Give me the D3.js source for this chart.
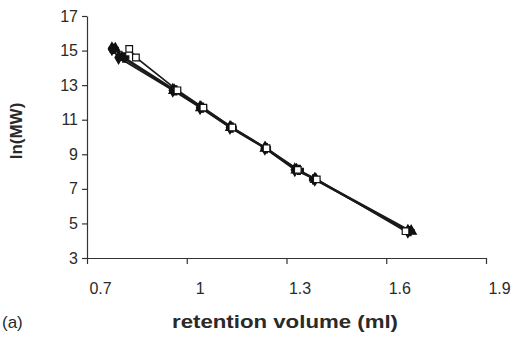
<!DOCTYPE html>
<html><head><meta charset="utf-8">
<script src="https://cdn.jsdelivr.net/npm/d3@7"></script>
<style>body{margin:0;background:#fff}svg{display:block}text{font-family:"Liberation Sans",Arial,sans-serif;fill:#2a2a2a}</style>
</head><body><svg id="c" width="512" height="340"></svg>
<script>
const lnMW = [15.1, 14.6, 12.7, 11.7, 10.55, 9.35, 8.1, 7.55, 4.55];
const volDiamond = [0.775, 0.795, 0.958, 1.040, 1.130, 1.235, 1.325, 1.385, 1.665];
const volTriangle = [0.785, 0.805, 0.962, 1.043, 1.133, 1.237, 1.330, 1.388, 1.675];
const volCross = [0.780, 0.812, 0.966, 1.046, 1.135, 1.238, 1.337, 1.383, 1.670];
const volSquare = [0.827, 0.847, 0.972, 1.050, 1.137, 1.240, 1.334, 1.391, 1.658];
const xTicks = [0.7, 1.0, 1.3, 1.6, 1.9];
const xTickLabels = ["0.7", "1", "1.3", "1.6", "1.9"];
const yTicks = [3, 5, 7, 9, 11, 13, 15, 17];

const svg = d3.select("#c");
const x = d3.scaleLinear().domain([0.7, 1.9]).range([87, 486]);
const y = d3.scaleLinear().domain([3, 17]).range([258, 16]);

const xAxis = svg.append("g").attr("transform", "translate(0,258)")
  .call(d3.axisBottom(x).tickValues(xTicks).tickFormat((d, i) => xTickLabels[i]).tickSizeInner(6).tickSizeOuter(0).tickPadding(19));
const yAxis = svg.append("g").attr("transform", "translate(87,0)")
  .call(d3.axisLeft(y).tickValues(yTicks).tickSizeInner(5).tickSizeOuter(0).tickPadding(4));
[xAxis, yAxis].forEach(a => {
  a.select(".domain").attr("stroke", "#333").attr("stroke-width", 1.2);
  a.selectAll(".tick line").attr("stroke", "#333").attr("stroke-width", 1.2);
  a.selectAll(".tick text").attr("font-size", 16).attr("fill", "#2a2a2a")
    .style("font-family", '"Liberation Sans", Arial, sans-serif');
});
xAxis.selectAll(".tick text").attr("dx", 13);

const series = [
  {vals: volDiamond, shape: d3.symbolDiamond, fill: "#111"},
  {vals: volTriangle, shape: d3.symbolTriangle, fill: "#111"},
  {vals: volCross, shape: d3.symbolCross, fill: "#111"},
  {vals: volSquare, shape: d3.symbolSquare, fill: "#fff"}
];
const line = d3.line().x(d => x(d[0])).y(d => y(d[1]));
series.forEach(s => {
  const pts = s.vals.map((v, i) => [v, lnMW[i]]);
  svg.append("path").datum(pts).attr("d", line).attr("fill", "none")
    .attr("stroke", "#1a1a1a").attr("stroke-width", 1.7);
});
series.forEach(s => {
  const pts = s.vals.map((v, i) => [v, lnMW[i]]);
  svg.append("g").selectAll("path").data(pts).join("path")
    .attr("transform", d => `translate(${x(d[0])},${y(d[1])})`)
    .attr("d", d3.symbol().type(s.shape).size(s.shape === d3.symbolSquare ? 44 : 46))
    .attr("fill", s.fill).attr("stroke", "#111").attr("stroke-width", 1.2);
});

svg.append("text").attr("transform", "translate(22,131) rotate(-90)")
  .attr("text-anchor", "middle").attr("font-size", 17).attr("font-weight", "bold").text("ln(MW)");
svg.append("text").attr("x", 172).attr("y", 328)
  .attr("font-size", 18).attr("font-weight", "bold")
  .attr("textLength", 226).attr("lengthAdjust", "spacingAndGlyphs").text("retention volume (ml)");
svg.append("text").attr("x", 2).attr("y", 328).attr("font-size", 17).text("(a)");
</script></body></html>
